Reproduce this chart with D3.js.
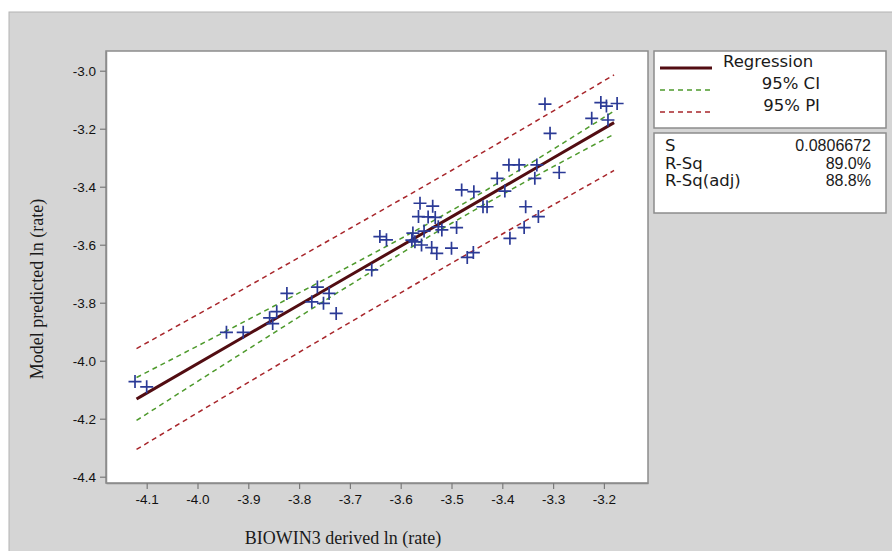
<!DOCTYPE html>
<html>
<head>
<meta charset="utf-8">
<script src="https://cdn.jsdelivr.net/npm/d3@7"></script>
<style>
  body { margin: 0; background: #ffffff; }
  svg { display: block; }
</style>
</head>
<body>
<div id="graf"></div>
<script>
// Datos
const biowin = [
  -4.123, -4.100, -3.943, -3.910, -3.858, -3.844, -3.852, -3.824, -3.764, -3.775,
  -3.752, -3.741, -3.727, -3.657, -3.641, -3.628, -3.578, -3.572, -3.562, -3.537,
  -3.565, -3.546, -3.532, -3.526, -3.519, -3.554, -3.559, -3.539, -3.529, -3.490,
  -3.500, -3.480, -3.456, -3.469, -3.457, -3.438, -3.430, -3.410, -3.395, -3.387,
  -3.367, -3.332, -3.336, -3.288, -3.354, -3.329, -3.357, -3.385, -3.316, -3.306,
  -3.206, -3.195, -3.174, -3.224, -3.192, -3.576
];
const predicted = [
  -4.072, -4.090, -3.902, -3.902, -3.852, -3.831, -3.872, -3.768, -3.746, -3.797,
  -3.802, -3.768, -3.837, -3.687, -3.572, -3.583, -3.584, -3.590, -3.457, -3.467,
  -3.503, -3.504, -3.506, -3.538, -3.549, -3.553, -3.601, -3.610, -3.630, -3.541,
  -3.612, -3.411, -3.417, -3.644, -3.627, -3.469, -3.469, -3.371, -3.415, -3.325,
  -3.325, -3.325, -3.371, -3.351, -3.469, -3.503, -3.541, -3.578, -3.115, -3.216,
  -3.110, -3.122, -3.113, -3.164, -3.170, -3.560
];

// recta de regresion e intervalos (leidos)
const bandX   = [-4.12, -3.9, -3.7, -3.5, -3.3, -3.18];
const regFit  = [-4.132, -3.909, -3.706, -3.504, -3.301, -3.179];
const ciUpper = [-4.058, -3.858, -3.673, -3.482, -3.271, -3.139];
const ciLower = [-4.206, -3.960, -3.739, -3.526, -3.331, -3.219];
const piUpper = [-3.958, -3.743, -3.544, -3.344, -3.139, -3.014];
const piLower = [-4.306, -4.075, -3.868, -3.664, -3.463, -3.344];

const xTicks = [-4.1, -4.0, -3.9, -3.8, -3.7, -3.6, -3.5, -3.4, -3.3, -3.2];
const yTicks = [-3.0, -3.2, -3.4, -3.6, -3.8, -4.0, -4.2, -4.4];

const legendLabels = ["Regression", "95% CI", "95% PI"];
const statNames = ["S", "R-Sq", "R-Sq(adj)"];
const statValues = ["0.0806672", "89.0%", "88.8%"];

const xTitle = "BIOWIN3 derived ln (rate)";
const yTitle = "Model predicted ln (rate)";

// Area total
const ancho_total = 892, alto_total = 551;
const plot = { left: 106, top: 51, right: 648, bottom: 483 };

const svg = d3.select("#graf").append("svg")
  .attr("width", ancho_total)
  .attr("height", alto_total);

// fondo gris
svg.append("rect")
  .attr("x", 9).attr("y", 12)
  .attr("width", ancho_total).attr("height", alto_total)
  .attr("fill", "#d5d5d5")
  .attr("stroke", "#b4b4b4")
  .attr("stroke-width", 1);

// Escaladores
const x = d3.scaleLinear().domain([-4.1801, -3.1132]).range([plot.left, plot.right]);
const y = d3.scaleLinear().domain([-4.4217, -2.932]).range([plot.bottom, plot.top]);

// zona de datos
svg.append("rect")
  .attr("x", plot.left).attr("y", plot.top)
  .attr("width", plot.right - plot.left)
  .attr("height", plot.bottom - plot.top)
  .attr("fill", "#ffffff")
  .attr("stroke", "#8c8c8c")
  .attr("stroke-width", 1.5);

// Ejes
const xAxis = svg.append("g")
  .attr("transform", `translate(0, ${plot.bottom})`)
  .call(d3.axisBottom(x).tickValues(xTicks).tickSize(6).tickSizeOuter(0).tickPadding(5)
    .tickFormat((d) => d.toFixed(1)));
const yAxis = svg.append("g")
  .attr("transform", `translate(${plot.left}, 0)`)
  .call(d3.axisLeft(y).tickValues(yTicks).tickSize(6).tickSizeOuter(0).tickPadding(4)
    .tickFormat((d) => d.toFixed(1)));

[xAxis, yAxis].forEach((a) => {
  a.select(".domain").attr("stroke", "#8c8c8c").attr("stroke-width", 1.5);
  a.selectAll(".tick line").attr("stroke", "#7a7a7a").attr("stroke-width", 1.2);
  a.selectAll(".tick text")
    .attr("fill", "#111111")
    .style("font-family", "'Liberation Sans', Arial, sans-serif")
    .style("font-size", "13.5px");
});

// titulos
svg.append("text")
  .attr("x", 343).attr("y", 544)
  .attr("text-anchor", "middle")
  .style("font-family", "'Liberation Serif', 'Times New Roman', serif")
  .style("font-size", "18px")
  .attr("fill", "#1a1a1a")
  .text(xTitle);

svg.append("text")
  .attr("transform", "translate(43, 289) rotate(-90)")
  .attr("text-anchor", "middle")
  .style("font-family", "'Liberation Serif', 'Times New Roman', serif")
  .style("font-size", "18px")
  .attr("fill", "#1a1a1a")
  .text(yTitle);

// Generador de lineas
const lineaGen = (vals) => d3.line()
  .x((d, i) => x(bandX[i]))
  .y((d) => y(d))
  .curve(d3.curveMonotoneX)(vals);

const g = svg.append("g");

[piUpper, piLower].forEach((serie) => {
  g.append("path")
    .attr("d", lineaGen(serie))
    .attr("fill", "none")
    .attr("stroke", "#a8262b")
    .attr("stroke-width", 1.5)
    .style("stroke-dasharray", "5, 4");
});

[ciUpper, ciLower].forEach((serie) => {
  g.append("path")
    .attr("d", lineaGen(serie))
    .attr("fill", "none")
    .attr("stroke", "#4e9a2c")
    .attr("stroke-width", 1.5)
    .style("stroke-dasharray", "5, 4");
});

g.append("path")
  .attr("d", lineaGen(regFit))
  .attr("fill", "none")
  .attr("stroke", "#520d12")
  .attr("stroke-width", 3);

// puntos (cruces)
const puntos = biowin.map((v, i) => ({ x: v, y: predicted[i] }));
const cruz = 6.5;
g.selectAll(".cruz")
  .data(puntos)
  .enter()
  .append("path")
  .attr("class", "cruz")
  .attr("d", (d) => {
    const px = x(d.x), py = y(d.y);
    return `M${px - cruz},${py}H${px + cruz}M${px},${py - cruz}V${py + cruz}`;
  })
  .attr("stroke", "#2b3a96")
  .attr("stroke-width", 1.7)
  .attr("fill", "none");

// Leyenda
const fuenteTxt = "'DejaVu Sans', Verdana, sans-serif";
const fuenteNum = "'Liberation Sans', Arial, sans-serif";
const leg = svg.append("g");
leg.append("rect")
  .attr("x", 654).attr("y", 51).attr("width", 232).attr("height", 77)
  .attr("fill", "#ffffff").attr("stroke", "#8c8c8c").attr("stroke-width", 1.5);

const legEstilos = [
  { color: "#520d12", w: 3, dash: null },
  { color: "#4e9a2c", w: 1.5, dash: "5, 4" },
  { color: "#a8262b", w: 1.5, dash: "5, 4" }
];
legendLabels.forEach((lab, i) => {
  const ly = 61 + i * 22;
  leg.append("line")
    .attr("x1", 660).attr("x2", 712)
    .attr("y1", ly + 7).attr("y2", ly + 7)
    .attr("stroke", legEstilos[i].color)
    .attr("stroke-width", legEstilos[i].w)
    .style("stroke-dasharray", legEstilos[i].dash);
  leg.append("text")
    .attr("x", i === 0 ? 723 : 820)
    .attr("y", ly + 6)
    .attr("text-anchor", i === 0 ? "start" : "end")
    .style("font-family", fuenteTxt).style("font-size", "16.5px")
    .attr("fill", "#1a1a1a")
    .text(lab);
});

leg.append("rect")
  .attr("x", 654).attr("y", 133).attr("width", 232).attr("height", 80)
  .attr("fill", "#ffffff").attr("stroke", "#8c8c8c").attr("stroke-width", 1.5);

statNames.forEach((n, i) => {
  const ly = 151 + i * 17.5;
  leg.append("text")
    .attr("x", 665).attr("y", ly)
    .style("font-family", fuenteTxt).style("font-size", "16.5px")
    .attr("fill", "#1a1a1a")
    .text(n);
  leg.append("text")
    .attr("x", 871).attr("y", ly)
    .attr("text-anchor", "end")
    .style("font-family", fuenteNum).style("font-size", "16px")
    .attr("fill", "#1a1a1a")
    .text(statValues[i]);
});
</script>
</body>
</html>
